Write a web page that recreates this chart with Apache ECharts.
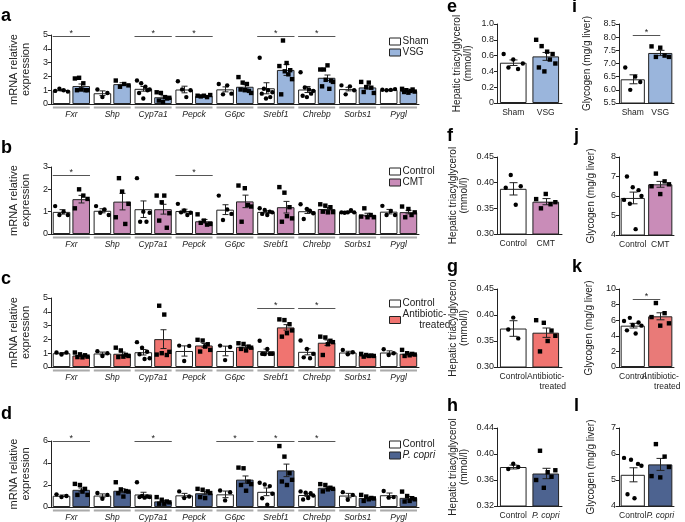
<!DOCTYPE html>
<html>
<head>
<meta charset="utf-8">
<script src="https://cdn.jsdelivr.net/npm/echarts@6/dist/echarts.min.js"></script>
<style>
  html, body { margin: 0; background: #fff; }
  #chart { width: 685px; height: 522px; }
</style>
</head>
<body>
<div id="chart"></div>
<script>
// ---- gene panels (a-d) ----
const genes = ['Fxr', 'Shp', 'Cyp7a1', 'Pepck', 'G6pc', 'Srebf1', 'Chrebp', 'Sorbs1', 'Pygl'];

// a: Sham vs VSG
const aShamMean = [1.0, 0.78, 1.1, 1.05, 1.06, 1.14, 1.05, 1.08, 1.03];
const aShamSem = [0.05, 0.17, 0.17, 0.24, 0.18, 0.4, 0.22, 0.13, 0.02];
const aShamPts = [[0.95, 1.1, 1.0, 0.9], [1.05, 0.5, 0.8], [1.7, 0.8, 1.5, 0.4, 1.25, 1.0, 1.05], [1.65, 1.05, 0.5, 1.0], [1.45, 0.7, 1.35, 0.75],
  [3.35, 0.75, 1.1, 0.4, 1.0, 0.5, 0.85], [2.3, 0.6, 1.2, 0.5, 1.05, 0.75, 0.95], [1.35, 0.7, 1.28, 1.0], [1.03, 1.0, 1.02, 1.08]];
const aVsgMean = [1.3, 1.44, 0.49, 0.58, 1.25, 2.47, 1.9, 1.2, 0.95];
const aVsgSem = [0.15, 0.1, 0.1, 0.03, 0.15, 0.4, 0.2, 0.12, 0.04];
const aVsgPts = [[1.85, 1.0, 1.9, 1.05, 1.5, 1.0, 1.0], [1.7, 1.25, 1.45, 1.35], [0.85, 0.25, 0.8, 0.15, 0.5, 0.4, 0.45], [0.6, 0.55, 0.6, 0.5, 0.65],
  [1.95, 1.05, 1.55, 1.0, 1.45, 0.95, 0.8], [2.75, 0.7, 4.6, 2.37, 2.97, 2.15, 2.45, 1.8], [2.5, 1.28, 2.5, 1.75, 2.8, 1.1, 1.7, 1.6], [1.6, 0.87, 1.23, 1.55, 1.18, 0.8], [1.1, 0.87, 1.0, 0.82, 0.95, 1.05, 0.9]];
const aSig = ['Fxr', 'Cyp7a1', 'Pepck', 'Srebf1', 'Chrebp'];

// b: Control vs CMT
const bCtrlMean = [0.99, 1.04, 1.11, 1.03, 1.09, 0.99, 1.02, 0.99, 1.0];
const bCtrlSem = [0.1, 0.09, 0.37, 0.08, 0.22, 0.05, 0.1, 0.03, 0.1];
const bCtrlPts = [[1.25, 0.85, 1.0, 0.85], [1.25, 0.95, 1.1, 0.85], [2.5, 0.55, 1.0, 0.55, 0.95], [1.35, 0.97, 1.05, 0.85, 0.95], [1.72, 0.63, 1.1, 0.9],
  [1.15, 0.9, 1.08, 0.85, 1.0, 0.97], [1.33, 0.67, 1.12, 1.03, 0.93], [0.97, 0.95, 0.97, 1.07, 0.97], [1.26, 0.85, 1.03, 0.85]];
const bCmtMean = [1.56, 1.45, 1.11, 0.57, 1.46, 1.2, 1.12, 0.86, 0.98];
const bCmtSem = [0.17, 0.37, 0.22, 0.08, 0.28, 0.26, 0.06, 0.07, 0.08];
const bCmtPts = [[1.15, 2.0, 1.72, 1.57], [0.75, 2.5, 1.9, 0.45, 1.35], [1.72, 0.6, 1.42, 1.72, 0.28, 0.93], [0.88, 0.5, 0.6, 0.42, 0.45], [2.17, 0.55, 2.05, 1.3, 1.23],
  [2.1, 0.55, 1.85, 0.8, 1.2, 0.7], [1.33, 1.0, 1.27, 0.97, 1.2, 0.98], [0.78, 1.15, 0.75, 0.85, 0.75], [1.23, 0.75, 1.12, 0.85, 0.97]];
const bSig = ['Fxr', 'Pepck'];

// c: Control vs Antibiotic-treated
const cCtrlMean = [1.0, 0.98, 1.07, 1.16, 1.16, 1.15, 1.1, 1.05, 1.05];
const cCtrlSem = [0.05, 0.1, 0.2, 0.37, 0.35, 0.15, 0.22, 0.09, 0.12];
const cCtrlPts = [[1.05, 0.9, 1.05], [1.15, 0.8, 1.0], [1.8, 0.92, 1.4, 0.58, 1.1, 0.63], [1.55, 0.44, 1.53], [1.55, 0.5, 1.45],
  [1.9, 0.95, 0.93, 1.3, 0.95, 0.95], [1.92, 0.7, 1.31, 0.63, 0.95], [1.24, 0.92, 1.07], [1.29, 0.87, 1.0]];
const cAbxMean = [0.83, 0.96, 2.02, 1.56, 1.46, 2.87, 1.76, 0.83, 0.96];
const cAbxSem = [0.05, 0.12, 0.68, 0.14, 0.08, 0.2, 0.2, 0.03, 0.06];
const cAbxPts = [[1.05, 0.72, 0.92, 0.7, 0.85, 0.75], [1.4, 0.72, 1.2, 0.75, 0.88, 0.8], [0.9, 4.44, 1.0, 3.8, 0.87, 1.1], [1.97, 1.12, 1.92, 1.48, 1.65, 1.24], [1.72, 1.31, 1.67, 1.2, 1.48, 1.4],
  [3.45, 2.2, 3.4, 2.45, 3.1, 2.65], [2.2, 0.87, 2.14, 1.65, 1.9, 1.8], [0.95, 0.75, 0.87, 0.8, 0.83, 0.8], [1.24, 0.8, 1.0, 0.85, 0.95, 0.9]];
const cSig = ['Srebf1', 'Chrebp'];

// d: Control vs P. copri
const dCtrlMean = [1.02, 1.04, 1.14, 1.06, 1.15, 1.38, 1.09, 1.04, 1.07];
const dCtrlSem = [0.07, 0.15, 0.2, 0.18, 0.3, 0.35, 0.12, 0.2, 0.2];
const dCtrlPts = [[1.15, 0.9, 1.0], [1.27, 0.75, 1.1], [2.25, 0.9, 1.0, 0.85, 0.95, 0.9], [1.42, 0.81, 0.96], [1.5, 0.6, 1.35],
  [2.2, 0.8, 2.05, 0.2, 1.9, 1.2], [1.42, 0.68, 1.3, 0.82, 1.25, 1.05], [1.35, 0.66, 1.1], [1.45, 0.85, 0.9]];
const dPcoMean = [1.56, 1.48, 0.51, 1.25, 2.49, 3.33, 1.75, 0.82, 0.83];
const dPcoSem = [0.17, 0.18, 0.09, 0.14, 0.33, 0.57, 0.1, 0.08, 0.13];
const dPcoPts = [[2.1, 1.1, 2.0, 1.4, 1.65, 1.1], [2.25, 1.25, 1.6, 0.95, 1.45, 1.4], [0.9, 0.3, 0.66, 0.3, 0.5, 0.42], [1.65, 0.9, 1.57, 0.81, 1.42, 1.27], [3.58, 2.0, 3.52, 1.48, 2.3, 2.08],
  [5.54, 2.32, 4.58, 2.0, 3.07, 2.47], [2.08, 1.42, 2.0, 1.6, 1.75, 1.65], [1.1, 0.55, 0.95, 0.7, 0.82, 0.78], [1.4, 0.5, 1.0, 0.55, 0.8, 0.7]];
const dSig = ['Fxr', 'Cyp7a1', 'G6pc', 'Srebf1', 'Chrebp'];

// ---- liver panels (e-l) ----
const eCats = ['Sham', 'VSG'];
const eMean = [0.51, 0.59];
const eSem = [0.035, 0.05];
const ePts = [[0.62, 0.45, 0.55, 0.43, 0.5], [0.8, 0.45, 0.72, 0.4, 0.65, 0.55, 0.62, 0.5]];
const iMean = [6.4, 7.4];
const iSem = [0.17, 0.1];
const iPts = [[6.85, 6.0, 6.5, 6.3], [7.65, 7.25, 7.6, 7.3, 7.25]];

const fCats = ['Control', 'CMT'];
const fMean = [0.388, 0.363];
const fSem = [0.012, 0.006];
const fPts = [[0.39, 0.415, 0.357, 0.393], [0.368, 0.35, 0.378, 0.358, 0.362]];
const jMean = [5.9, 6.6];
const jSem = [0.3, 0.15];
const jPts = [[5.8, 7.0, 5.6, 6.45, 4.3, 6.3, 6.0], [6.5, 7.15, 6.1, 6.75, 6.6]];

const gCats = ['Control', 'Antibiotic-treated'];
const gMean = [0.374, 0.366];
const gSem = [0.015, 0.009];
const gPts = [[0.372, 0.395, 0.355], [0.39, 0.33, 0.385, 0.35, 0.37, 0.36]];
const kMean = [5.3, 6.5];
const kSem = [0.3, 0.45];
const kPts = [[5.9, 4.7, 6.3, 5.4, 4.3, 5.7, 5.3], [6.4, 8.2, 5.3, 6.9, 5.6]];

const hCats = ['Control', 'P. copri'];
const hMean = [0.380, 0.370];
const hSem = [0.003, 0.008];
const hPts = [[0.377, 0.385, 0.38], [0.36, 0.405, 0.348, 0.372, 0.365, 0.375]];
const lMean = [5.2, 5.6];
const lSem = [0.27, 0.23];
const lPts = [[5.85, 4.45, 5.78, 4.3, 5.62, 5.55], [5.15, 6.38, 5.1, 5.9, 5.5]];

const FONT = '"Liberation Sans", Arial, sans-serif';
const INK = '#222';
const VSG = '#9ab5dc';
const CMT = '#c98cb8';
const ABX = '#f07470';
const PCO = '#4d6390';

const grids = [], xAxes = [], yAxes = [], series = [], legends = [], graphics = [];

function pairOffset(api, wFrac, gapFrac, side) {
  const band = api.size([1, 0])[0];
  const w = band * wFrac;
  return { w: w, off: side * w * (1 + gapFrac) / 2 };
}

function errRender(wFrac, gapFrac, cap) {
  return function (params, api) {
    const o = pairOffset(api, wFrac, gapFrac, api.value(3));
    const m = api.value(1), s = api.value(2);
    const top = api.coord([api.value(0), m + s]);
    const bot = api.coord([api.value(0), m - s]);
    const x = Math.round(top[0] + o.off) + 0.5;
    const st = { stroke: INK, lineWidth: 1 };
    return {
      type: 'group', children: [
        { type: 'line', shape: { x1: x, y1: top[1], x2: x, y2: bot[1] }, style: st },
        { type: 'line', shape: { x1: x - cap, y1: top[1], x2: x + cap, y2: top[1] }, style: st },
        { type: 'line', shape: { x1: x - cap, y1: bot[1], x2: x + cap, y2: bot[1] }, style: st }
      ]
    };
  };
}

function dotRender(wFrac, gapFrac) {
  return function (params, api) {
    const n = api.value(4), k = api.value(3);
    const o = pairOffset(api, wFrac, gapFrac, api.value(2));
    const p = api.coord([api.value(0), api.value(1)]);
    const spread = Math.min(o.w * 0.72, (n - 1) * 5);
    const x = p[0] + o.off + (n > 1 ? spread * (k / (n - 1) - 0.5) : 0);
    if (api.value(5) === 0) {
      return { type: 'circle', shape: { cx: x, cy: p[1], r: 2.2 }, style: { fill: '#000' } };
    }
    return { type: 'rect', shape: { x: x - 2.2, y: p[1] - 2.2, width: 4.4, height: 4.4 }, style: { fill: '#000' } };
  };
}

function underlineRender(params, api) {
  const band = api.size([1, 0])[0];
  const p = api.coord([api.value(0), api.value(1)]);
  return {
    type: 'line',
    shape: { x1: p[0] - band / 2 + 2, y1: p[1] + 3.5, x2: p[0] + band / 2 - 2, y2: p[1] + 3.5 },
    style: { stroke: '#aaa', lineWidth: 2 }
  };
}

function sigPairRender(wFrac, gapFrac) {
  return function (params, api) {
    const band = api.size([1, 0])[0];
    const w = band * wFrac;
    const p = api.coord([api.value(0), api.value(1)]);
    const half = w * (1 + gapFrac / 2);
    const y = Math.round(p[1]) + 0.5;
    return {
      type: 'group', children: [
        { type: 'line', shape: { x1: p[0] - half, y1: y, x2: p[0] + half, y2: y }, style: { stroke: '#555', lineWidth: 1 } },
        { type: 'text', style: { text: '*', x: p[0], y: y + 2, align: 'center', verticalAlign: 'bottom', font: '9px ' + FONT, fill: INK } }
      ]
    };
  };
}

function sigSpanRender(params, api) {
  const a = api.coord([api.value(0), api.value(2)]);
  const b = api.coord([api.value(1), api.value(2)]);
  const y = Math.round(a[1]) + 0.5;
  return {
    type: 'group', children: [
      { type: 'line', shape: { x1: a[0], y1: y, x2: b[0], y2: y }, style: { stroke: '#555', lineWidth: 1 } },
      { type: 'text', style: { text: '*', x: (a[0] + b[0]) / 2, y: y + 2, align: 'center', verticalAlign: 'bottom', font: '9px ' + FONT, fill: INK } }
    ]
  };
}

function letter(t, x, y) {
  graphics.push({ type: 'text', left: x, top: y, style: { text: t, font: 'bold 18px ' + FONT, fill: '#000' } });
}

function yAxisBase(gi, min, max, interval, name, nameGap, nameSize, fmt) {
  return {
    type: 'value', gridIndex: gi, min: min, max: max, interval: interval,
    name: name, nameLocation: 'middle', nameGap: nameGap,
    nameTextStyle: { fontSize: nameSize, color: INK, lineHeight: nameSize + 1, fontFamily: FONT },
    axisLine: { show: true, lineStyle: { color: INK, width: 1 } },
    axisTick: { show: true, length: 3, lineStyle: { color: INK } },
    axisLabel: { fontSize: 9, color: INK, margin: 3, formatter: fmt },
    splitLine: { show: false }
  };
}

function addGenePanel(o) {
  const gi = grids.length;
  const W = 0.43, GAP = 0.12;
  grids.push({ left: 37, top: o.top, width: 382, height: o.height });
  xAxes.push({
    type: 'category', gridIndex: gi, data: genes,
    axisLine: { lineStyle: { color: INK } }, axisTick: { show: false },
    axisLabel: { interval: 0, fontSize: 8.5, fontStyle: 'italic', color: INK, margin: 6 }
  });
  yAxes.push(yAxisBase(gi, 0, o.max, o.interval, 'mRNA relative\nexpression', 13, 11));
  const ax = { xAxisIndex: gi, yAxisIndex: gi };
  series.push(Object.assign({
    type: 'bar', name: o.ctrlName, data: o.ctrlMean, barWidth: '43%', barGap: '12%',
    itemStyle: { color: '#fff', borderColor: INK, borderWidth: 1 }
  }, ax));
  series.push(Object.assign({
    type: 'bar', name: o.trtName, data: o.trtMean, barWidth: '43%', barGap: '12%',
    itemStyle: { color: o.color, borderColor: INK, borderWidth: 1 }
  }, ax));
  const err = [], dots = [];
  genes.forEach(function (g, i) {
    err.push([i, o.ctrlMean[i], o.ctrlSem[i], -1]);
    err.push([i, o.trtMean[i], o.trtSem[i], 1]);
    o.ctrlPts[i].forEach(function (v, k) { dots.push([i, v, -1, k, o.ctrlPts[i].length, 0]); });
    o.trtPts[i].forEach(function (v, k) { dots.push([i, v, 1, k, o.trtPts[i].length, 1]); });
  });
  series.push(Object.assign({ type: 'custom', renderItem: errRender(W, GAP, 3), data: err, encode: { x: 0, y: 1 }, z: 3, silent: true }, ax));
  series.push(Object.assign({ type: 'custom', renderItem: dotRender(W, GAP), data: dots, encode: { x: 0, y: 1 }, z: 4, silent: true }, ax));
  series.push(Object.assign({ type: 'custom', renderItem: underlineRender, data: genes.map(function (g, i) { return [i, 0]; }), encode: { x: 0, y: 1 }, silent: true }, ax));
  series.push(Object.assign({
    type: 'custom', renderItem: sigPairRender(W, GAP),
    data: o.sig.map(function (g) { return [genes.indexOf(g), o.sigY]; }), encode: { x: 0, y: 1 }, silent: true
  }, ax));
  legends.push({
    left: 389, top: o.legendTop, orient: 'vertical', icon: 'rect', itemWidth: 11, itemHeight: 7, itemGap: 0, padding: 0,
    selectedMode: false,
    itemStyle: { borderColor: INK, borderWidth: 1 },
    textStyle: { fontSize: 10, color: INK, lineHeight: 11, padding: [0, 0, 0, -3], fontFamily: FONT },
    formatter: function (n) { return n === 'Antibiotic-treated' ? 'Antibiotic-\n      treated' : n; },
    data: [o.ctrlName, o.trtName === 'P. copri' ? { name: 'P. copri', textStyle: { fontStyle: 'italic' } } : o.trtName]
  });
  letter(o.letter, 1, o.letterTop);
}

function catLabel(v) {
  if (v === 'P. copri') return '{i|P. copri}';
  if (v === 'Antibiotic-treated') return 'Antibiotic-\n      treated';
  return v;
}

function addBarPanel(o) {
  const gi = grids.length;
  grids.push({ left: o.left, top: o.top, width: o.width, height: o.height });
  xAxes.push({
    type: 'category', gridIndex: gi, data: o.cats,
    axisLine: { lineStyle: { color: INK } }, axisTick: { show: false },
    axisLabel: {
      interval: 0, fontSize: 8.5, color: INK, margin: 5, lineHeight: 10, formatter: catLabel,
      rich: { i: { fontStyle: 'italic', fontSize: 8.5, color: INK } }
    }
  });
  yAxes.push(yAxisBase(gi, o.min, o.max, o.interval, o.name, o.nameGap, 10,
    function (v) { return v === 0 ? '0' : v.toFixed(o.digits); }));
  const ax = { xAxisIndex: gi, yAxisIndex: gi };
  const colors = ['#fff', o.color];
  series.push(Object.assign({
    type: 'bar', name: 'panel-' + o.letter, barWidth: o.barWidth,
    data: o.mean.map(function (v, i) { return { value: v, itemStyle: { color: colors[i] } }; }),
    itemStyle: { borderColor: INK, borderWidth: 1 }
  }, ax));
  const err = [], dots = [];
  o.mean.forEach(function (m, i) {
    err.push([i, m, o.sem[i], 0]);
    o.pts[i].forEach(function (v, k) { dots.push([i, v, 0, k, o.pts[i].length, i]); });
  });
  const wf = parseFloat(o.barWidth) / 100;
  series.push(Object.assign({ type: 'custom', renderItem: errRender(wf, 0, 4), data: err, encode: { x: 0, y: 1 }, z: 3, silent: true }, ax));
  series.push(Object.assign({ type: 'custom', renderItem: dotRender(wf, 0), data: dots, encode: { x: 0, y: 1 }, z: 4, silent: true }, ax));
  if (o.sigY) {
    series.push(Object.assign({ type: 'custom', renderItem: sigSpanRender, data: [[0, 1, o.sigY]], encode: { x: 0, y: 2 }, silent: true }, ax));
  }
  letter(o.letter, o.letterX, o.letterTop);
}

addGenePanel({ letter: 'a', letterTop: 7, top: 35, height: 69, max: 5, interval: 1, ctrlName: 'Sham', trtName: 'VSG', color: VSG,
  ctrlMean: aShamMean, ctrlSem: aShamSem, ctrlPts: aShamPts, trtMean: aVsgMean, trtSem: aVsgSem, trtPts: aVsgPts, sig: aSig, sigY: 4.95, legendTop: 36 });
addGenePanel({ letter: 'b', letterTop: 139, top: 167, height: 67, max: 3, interval: 1, ctrlName: 'Control', trtName: 'CMT', color: CMT,
  ctrlMean: bCtrlMean, ctrlSem: bCtrlSem, ctrlPts: bCtrlPts, trtMean: bCmtMean, trtSem: bCmtSem, trtPts: bCmtPts, sig: bSig, sigY: 2.65, legendTop: 166 });
addGenePanel({ letter: 'c', letterTop: 270, top: 298, height: 69, max: 5, interval: 1, ctrlName: 'Control', trtName: 'Antibiotic-treated', color: ABX,
  ctrlMean: cCtrlMean, ctrlSem: cCtrlSem, ctrlPts: cCtrlPts, trtMean: cAbxMean, trtSem: cAbxSem, trtPts: cAbxPts, sig: cSig, sigY: 4.27, legendTop: 298 });
addGenePanel({ letter: 'd', letterTop: 405, top: 441, height: 66, max: 6, interval: 2, ctrlName: 'Control', trtName: 'P. copri', color: PCO,
  ctrlMean: dCtrlMean, ctrlSem: dCtrlSem, ctrlPts: dCtrlPts, trtMean: dPcoMean, trtSem: dPcoSem, trtPts: dPcoPts, sig: dSig, sigY: 6, legendTop: 439 });

const TG = 'Hepatic triacylglycerol\n(mmol/l)';
const GLY = 'Glycogen (mg/g liver)';
addBarPanel({ letter: 'e', letterX: 447, letterTop: -2, left: 497, top: 24, width: 65, height: 79, cats: eCats, color: VSG, mean: eMean, sem: eSem, pts: ePts,
  min: 0, max: 1, interval: 0.2, digits: 1, name: TG, nameGap: 23, barWidth: '82%' });
addBarPanel({ letter: 'i', letterX: 572, letterTop: -2, left: 619, top: 24, width: 55, height: 79, cats: eCats, color: VSG, mean: iMean, sem: iSem, pts: iPts,
  min: 5.5, max: 8.5, interval: 0.5, digits: 1, name: GLY, nameGap: 26, barWidth: '88%', sigY: 8.1 });
addBarPanel({ letter: 'f', letterX: 447, letterTop: 127, left: 497, top: 157, width: 65, height: 77, cats: fCats, color: CMT, mean: fMean, sem: fSem, pts: fPts,
  min: 0.3, max: 0.45, interval: 0.05, digits: 2, name: TG, nameGap: 27, barWidth: '82%' });
addBarPanel({ letter: 'j', letterX: 574, letterTop: 127, left: 619, top: 157, width: 55, height: 78, cats: fCats, color: CMT, mean: jMean, sem: jSem, pts: jPts,
  min: 4, max: 8, interval: 1, digits: 0, name: GLY, nameGap: 22, barWidth: '88%' });
addBarPanel({ letter: 'g', letterX: 447, letterTop: 258, left: 497, top: 289, width: 65, height: 78, cats: gCats, color: ABX, mean: gMean, sem: gSem, pts: gPts,
  min: 0.3, max: 0.45, interval: 0.05, digits: 2, name: TG, nameGap: 27, barWidth: '82%' });
addBarPanel({ letter: 'k', letterX: 572, letterTop: 258, left: 619, top: 289, width: 55, height: 78, cats: gCats, color: '#e97a78', mean: kMean, sem: kSem, pts: kPts,
  min: 0, max: 10, interval: 2, digits: 0, name: GLY, nameGap: 24, barWidth: '88%', sigY: 8.7 });
addBarPanel({ letter: 'h', letterX: 447, letterTop: 397, left: 497, top: 428, width: 65, height: 78, cats: hCats, color: PCO, mean: hMean, sem: hSem, pts: hPts,
  min: 0.32, max: 0.44, interval: 0.04, digits: 2, name: TG, nameGap: 27, barWidth: '82%' });
addBarPanel({ letter: 'l', letterX: 574, letterTop: 397, left: 619, top: 428, width: 55, height: 78, cats: hCats, color: PCO, mean: lMean, sem: lSem, pts: lPts,
  min: 4, max: 7, interval: 1, digits: 0, name: GLY, nameGap: 22, barWidth: '88%' });

const chart = echarts.init(document.getElementById('chart'), null, { renderer: 'canvas' });
chart.setOption({
  animation: false,
  backgroundColor: '#fff',
  textStyle: { fontFamily: FONT },
  grid: grids,
  xAxis: xAxes,
  yAxis: yAxes,
  legend: legends,
  graphic: graphics,
  series: series
});
</script>
</body>
</html>
